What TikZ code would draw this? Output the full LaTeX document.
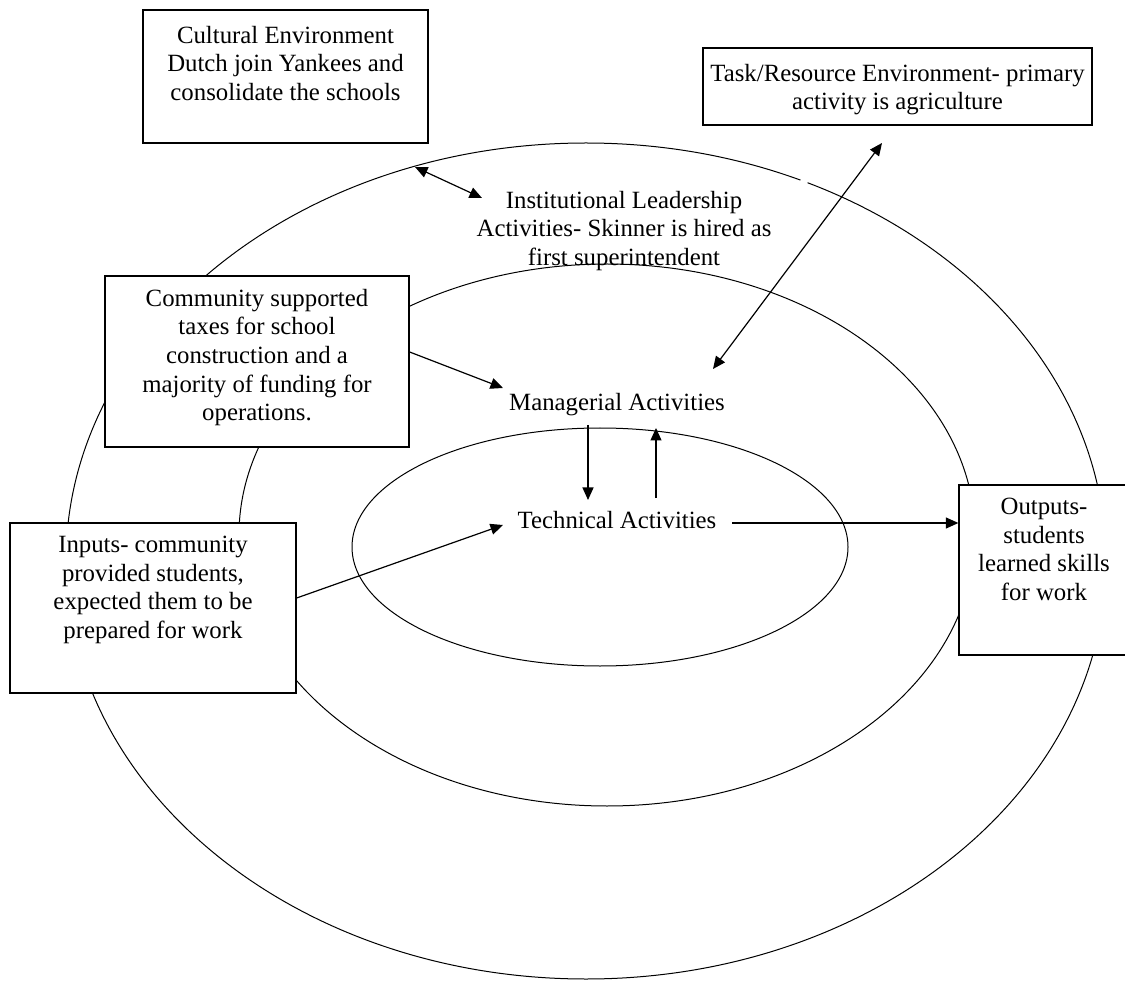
\documentclass[tikz,border=0pt]{standalone}
\usepackage{fontspec}
\setmainfont{Liberation Serif}
\usetikzlibrary{arrows.meta}

\newcommand\bodyfont{\fontsize{24.8}{28.6}\selectfont}
% framed text: width, height, space above the first line, text
\newcommand\boxtext[4]{\parbox[c][#2][t]{#1}{\centering\vspace*{#3}#4\par}}

\tikzset{
  ring/.style={draw, line width=1pt},
  framebox/.style={draw, fill=white, line width=1.3pt, inner sep=0pt, rectangle, font=\bodyfont},
  lbl/.style={inner sep=0pt, align=center, font=\bodyfont},
  tip/.tip={Triangle[length=12.5pt,width=11pt]},
  link/.style={line width=1.2pt, -tip},
  twoway/.style={line width=1.2pt, tip-tip},
}

\begin{document}
\begin{tikzpicture}[x=1pt,y=-1pt]
\useasboundingbox (0,0) rectangle (1125,981);
\clip (0,0) rectangle (1125,981);

% nested environments
\draw[ring] (586,561) ellipse [x radius=520pt, y radius=418pt];
\draw[ring] (607,535) ellipse [x radius=368pt, y radius=271pt];
\draw[ring] (600,547) ellipse [x radius=248pt, y radius=119pt];
% small break in the outer ring
\draw[white, line width=3pt] (800.5,180.2) -- (807.5,182.7);

% framed boxes
\node[framebox] (cult) at (285.5,76.5)
  {\boxtext{285pt}{133pt}{16pt}{Cultural Environment\\Dutch join Yankees and\\consolidate the schools}};
\node[framebox] (task) at (897.5,86.5)
  {\boxtext{389pt}{77pt}{16pt}{Task/Resource Environment- primary\\activity is agriculture}};
\node[framebox] (comm) at (257,361.5)
  {\boxtext{304pt}{171pt}{13pt}{Community supported\\taxes for school\\construction and a\\majority of funding for\\operations.}};
\node[framebox] (inp) at (153,608)
  {\boxtext{286pt}{170pt}{13pt}{Inputs- community\\provided students,\\expected them to be\\prepared for work}};
\node[framebox] (outp) at (1044,570)
  {\boxtext{170pt}{170pt}{13pt}{Outputs-\\students\\learned skills\\for work}};

% activity labels
\node[lbl] (inst) at (624,231) {Institutional Leadership\\Activities- Skinner is hired as\\first superintendent};
\node[lbl] (mgr) at (617,405) {Managerial Activities};
\node[lbl] (tech) at (617,520) {Technical Activities};

% connector ends
\coordinate (cultEnd) at (415,167);
\coordinate (instEnd) at (482,198);
\coordinate (taskEnd) at (882,143);
\coordinate (mgrEnd) at (713,369);
\coordinate (commOut) at (comm.east |- 0,352);
\coordinate (mgrIn) at (503,388);
\coordinate (mgrDown) at (588,425);
\coordinate (techIn) at (588,500);
\coordinate (techUp) at (656,498);
\coordinate (mgrUp) at (656,428);
\coordinate (techOut) at (732,523);
\coordinate (outIn) at (outp.west |- 0,523);
\coordinate (inpOut) at (inp.east |- 0,598);
\coordinate (techL) at (503,525);

% connectors
\draw[twoway] (cultEnd) -- (instEnd);
\draw[twoway] (taskEnd) -- (mgrEnd);
\draw[link] (commOut) -- (mgrIn);
\draw[link] (mgrDown) -- (techIn);
\draw[link] (techUp) -- (mgrUp);
\draw[link] (techOut) -- (outIn);
\draw[link] (inpOut) -- (techL);
\end{tikzpicture}
\end{document}
